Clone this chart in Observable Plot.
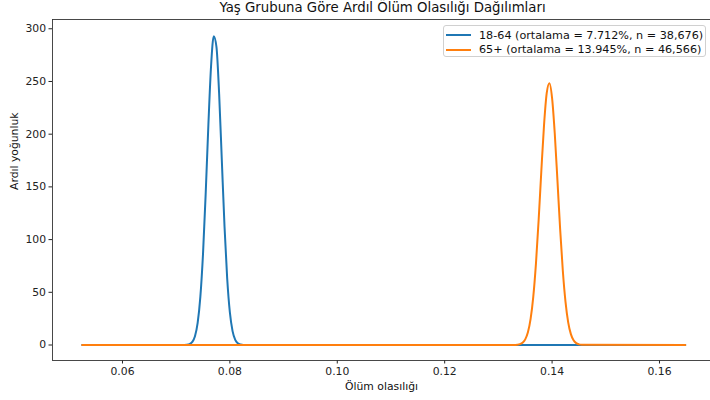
<!DOCTYPE html>
<html>
<head>
<meta charset="utf-8">
<script src="https://cdn.jsdelivr.net/npm/d3@7"></script>
<script src="https://cdn.jsdelivr.net/npm/@observablehq/plot@0.6"></script>
<style>
  body { margin: 0; background: #fff; }
  #wrap { position: relative; width: 710px; height: 400px; overflow: hidden; font-family: "DejaVu Sans", sans-serif; }
  #legend { position: absolute; left: 443px; top: 25px; width: 263px; height: 32px; box-sizing: border-box; padding: 2px 0 0 0; border: 1px solid #d0d0d0; border-radius: 3px; background: rgba(255,255,255,0.85); font-size: 11.2px; color: #111; white-space: nowrap; }
  .row { display: flex; align-items: center; height: 14.4px; }
  .row svg { margin-left: 2px; margin-right: 8px; flex: none; }
</style>
</head>
<body>
<div id="wrap"></div>
<script>
// Series labels and summary numbers
const groups = ["18-64", "65+"];
const means = ["7.712%", "13.945%"];
const ns = ["38,676", "46,566"];
const colors = ["#1f77b4", "#ff7f0e"];

// 18-64 posterior density
const xBlue = [0.0525, 0.0715, 0.0720, 0.0725, 0.0730, 0.0735, 0.0740, 0.0745, 0.0750, 0.0755, 0.0760, 0.0765, 0.0770, 0.0775, 0.0780, 0.0785, 0.0790, 0.0795, 0.0800, 0.0805, 0.0810, 0.0815, 0.0820, 0.0825, 0.1648];
const yBlue = [0, 0.1, 0.24, 0.89, 2.92, 8.36, 20.9, 45.6, 86.7, 144.2, 209.2, 264.9, 293.0, 282.8, 238.3, 175.3, 112.6, 63.1, 30.9, 13.2, 4.92, 1.60, 0.46, 0.1, 0];

// 65+ posterior density
const xOrange = [0.0525, 0.1330, 0.1335, 0.1340, 0.1345, 0.1350, 0.1355, 0.1360, 0.1365, 0.1370, 0.1375, 0.1380, 0.1385, 0.1390, 0.1395, 0.1400, 0.1405, 0.1410, 0.1415, 0.1420, 0.1425, 0.1430, 0.1435, 0.1440, 0.1445, 0.1450, 0.1455, 0.1648];
const yOrange = [0, 0.05, 0.26, 0.78, 2.14, 5.33, 12.0, 24.7, 45.9, 77.5, 118.8, 165.3, 208.6, 238.9, 248.4, 234.3, 200.6, 155.9, 110.0, 70.4, 40.9, 21.5, 10.3, 4.48, 1.76, 0.63, 0.2, 0];

const xTicks = [0.06, 0.08, 0.10, 0.12, 0.14, 0.16];
const yTicks = [0, 50, 100, 150, 200, 250, 300];

const title = "Yaş Grubuna Göre Ardıl Ölüm Olasılığı Dağılımları";
const xLabel = "Ölüm olasılığı";
const yLabel = "Ardıl yoğunluk";

const blue = xBlue.map((x, i) => ({x, y: yBlue[i]}));
const orange = xOrange.map((x, i) => ({x, y: yOrange[i]}));

const xDomain = [0.04697, 0.1695];
const yDomain = [-14.7, 308.8];

const chart = Plot.plot({
  width: 710,
  height: 400,
  marginLeft: 52,
  marginRight: 0,
  marginTop: 19,
  marginBottom: 40,
  style: {fontFamily: "DejaVu Sans, sans-serif", fontSize: "10.8px", color: "#222", background: "#fff"},
  x: {domain: xDomain},
  y: {domain: yDomain},
  marks: [
    Plot.axisX({ticks: xTicks, tickFormat: d3.format(".2f"), tickSize: 3.5, tickPadding: 3, label: null}),
    Plot.axisY({ticks: yTicks, tickFormat: d3.format("d"), tickSize: 3.5, tickPadding: 3, label: null}),
    Plot.ruleX([xDomain[0]], {stroke: "#333", strokeWidth: 0.9}),
    Plot.ruleY([yDomain[0], yDomain[1]], {stroke: "#333", strokeWidth: 0.9}),
    Plot.line(blue, {x: "x", y: "y", stroke: colors[0], strokeWidth: 2, curve: "monotone-x"}),
    Plot.line(orange, {x: "x", y: "y", stroke: colors[1], strokeWidth: 2, curve: "monotone-x"}),
    Plot.text([title], {frameAnchor: "top", lineAnchor: "top", dx: 1, dy: -17, fontSize: 13.3, fill: "#111", text: d => d}),
    Plot.text([xLabel], {frameAnchor: "bottom", dy: 29, fontSize: 10.8, fill: "#111", text: d => d}),
    Plot.text([yLabel], {frameAnchor: "left", dx: -38, rotate: -90, fontSize: 10.8, fill: "#111", text: d => d})
  ]
});

const wrap = document.getElementById("wrap");
wrap.appendChild(chart);

const legend = document.createElement("div");
legend.id = "legend";
groups.forEach((g, i) => {
  const row = document.createElement("div");
  row.className = "row";
  row.innerHTML = `<svg width="25" height="4"><line x1="0" y1="2" x2="25" y2="2" stroke="${colors[i]}" stroke-width="2"/></svg><span>${g} (ortalama = ${means[i]}, n = ${ns[i]})</span>`;
  legend.appendChild(row);
});
wrap.appendChild(legend);
</script>
</body>
</html>
